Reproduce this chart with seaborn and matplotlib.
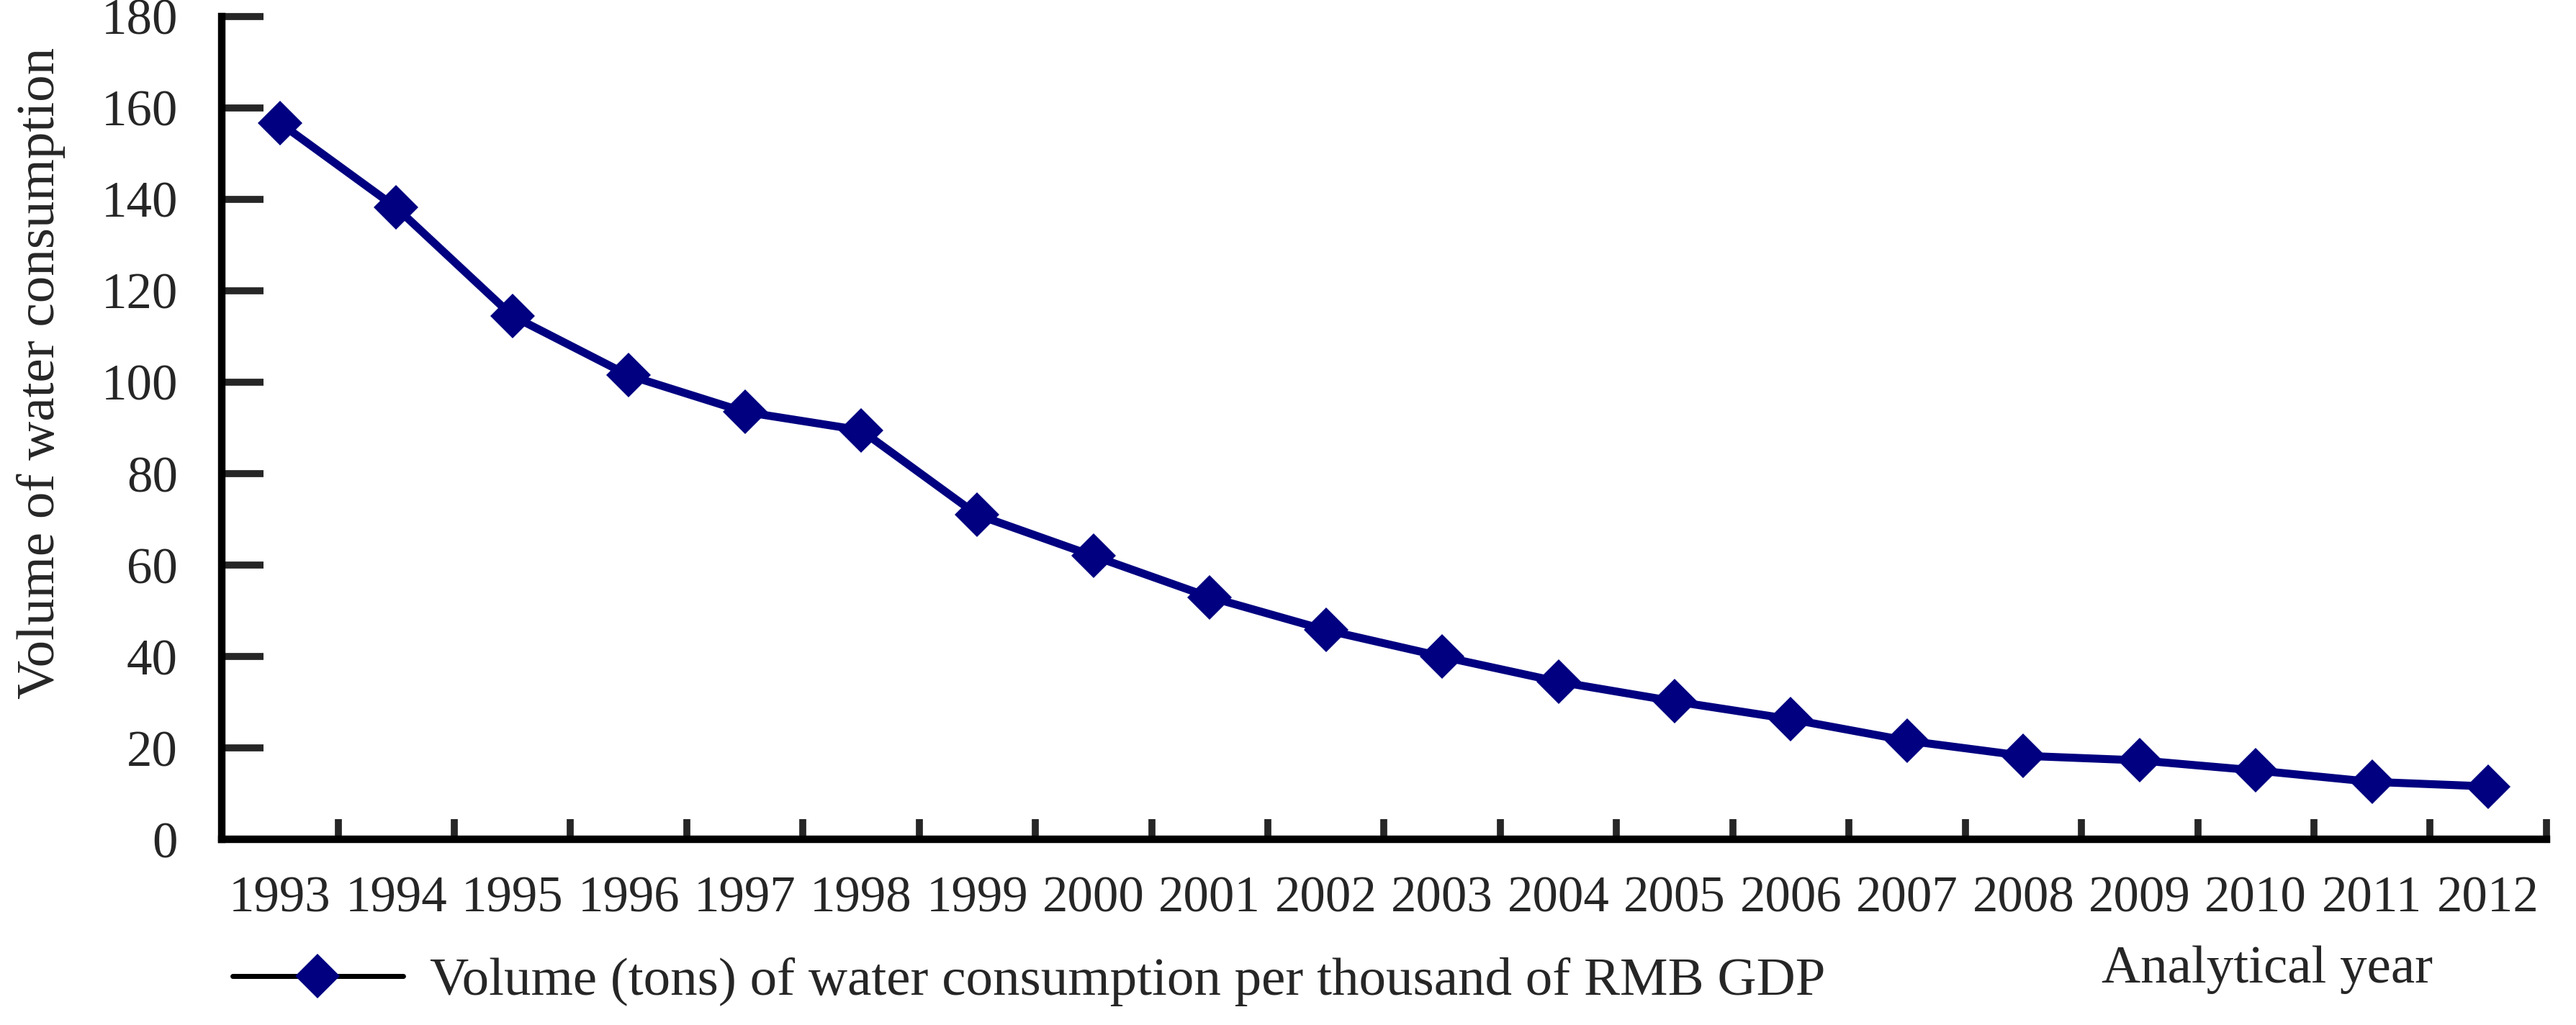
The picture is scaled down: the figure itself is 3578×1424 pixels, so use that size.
import pandas as pd
import seaborn as sns
import matplotlib.pyplot as plt
from matplotlib.lines import Line2D

years = list(range(1993, 2013))
water_per_gdp = [156.7, 138.2, 114.5, 101.5, 93.5, 89.5, 71.0, 62.0, 53.0, 45.8,
                 40.0, 34.5, 30.2, 26.3, 21.6, 18.3, 17.3, 15.1, 12.6, 11.6]
series_label = "Volume (tons) of water consumption per thousand of RMB GDP"
y_ticks = list(range(0, 181, 20))
x_title = "Analytical year"
y_title = "Volume of water consumption"

sns.set_style("white")
plt.rcParams['font.family'] = ['Liberation Serif', 'DejaVu Serif']
navy = "#000080"
fs = 54
tick_fs = 51

df = pd.DataFrame({"year": years, "value": water_per_gdp})

fig = plt.figure(figsize=(35.78, 14.24), dpi=100)
ax = fig.add_axes([0.0861, 0.181, 0.9024, 0.803])
sns.lineplot(data=df, x="year", y="value", ax=ax, color=navy, linewidth=8,
             marker="D", markersize=32, markeredgewidth=0, markerfacecolor=navy)

ax.set_xlim(years[0] - 0.5, years[-1] + 0.5)
ax.set_ylim(0, 180)
ax.set_xlabel("")
ax.set_ylabel("")

for side in ["top", "right"]:
    ax.spines[side].set_visible(False)
for side in ["left", "bottom"]:
    ax.spines[side].set_linewidth(7.5)
    ax.spines[side].set_color("black")
    ax.spines[side].set_capstyle("projecting")

ax.set_yticks(y_ticks)
ax.tick_params(axis="y", which="major", direction="in", length=42, width=7,
               labelsize=tick_fs, pad=44, left=True)
ax.set_xticks(years)
ax.set_xticks([y - 0.5 for y in years] + [years[-1] + 0.5], minor=True)
ax.tick_params(axis="x", which="major", length=0, labelsize=tick_fs, pad=36)
ax.tick_params(axis="x", which="minor", direction="in", length=20, width=7, bottom=True)

fig.text(0.016, 0.636, y_title, rotation=90, ha="center", va="center", fontsize=fs)
fig.text(0.880, 0.054, x_title, ha="center", va="center", fontsize=fs)

handle = Line2D([], [], color="black", linewidth=5, marker="D", markersize=32,
                markeredgewidth=0, markerfacecolor=navy)
fig.legend([handle], [series_label], loc="center left", bbox_to_anchor=(0.0715, 0.042),
           frameon=False, fontsize=fs, handlelength=3.15, handletextpad=0.5)

fig.savefig("out.png", dpi=100)
